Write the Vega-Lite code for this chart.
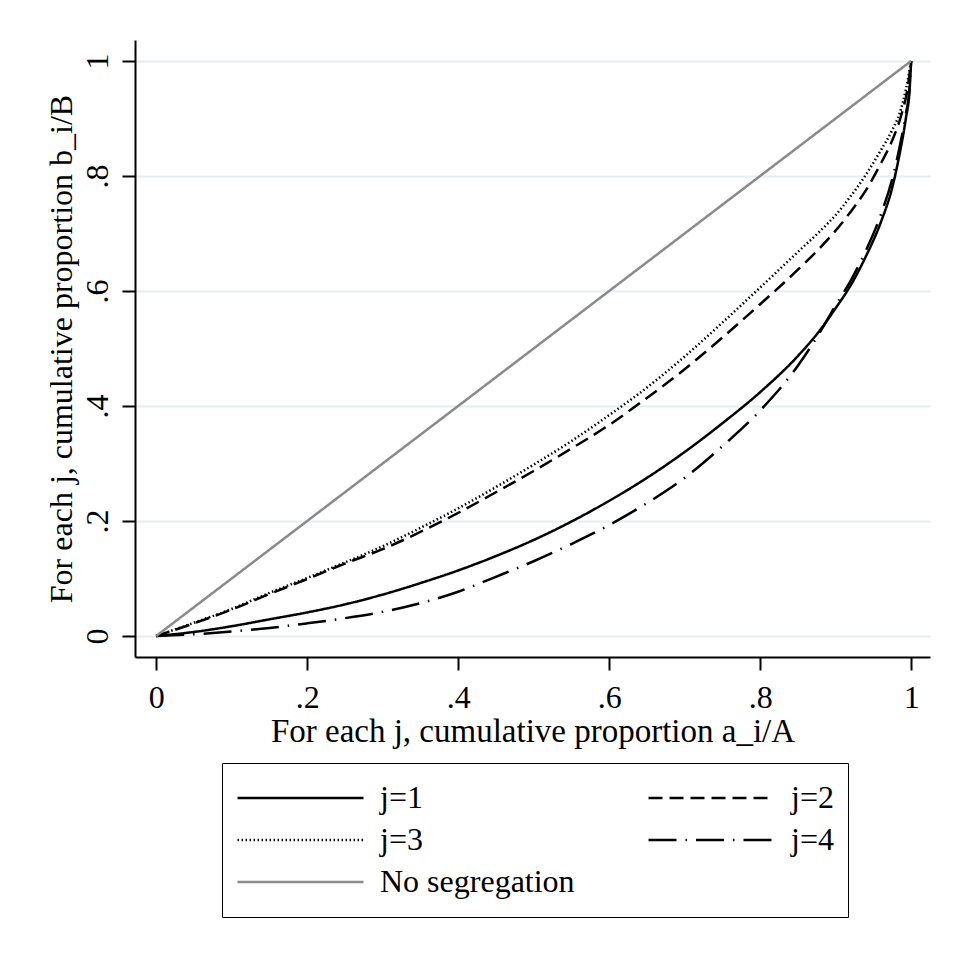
{
  "$schema": "https://vega.github.io/schema/vega-lite/v6.json",
  "autosize": {"type": "none"},
  "width": 795,
  "height": 617,
  "padding": {"left": 135, "top": 40, "right": 29, "bottom": 297},
  "background": "white",
  "config": {
    "view": {"stroke": null},
    "font": "Liberation Serif",
    "axis": {"labelFont": "Liberation Serif", "titleFont": "Liberation Serif", "labelColor": "black", "titleColor": "black", "titleFontWeight": "normal"}
  },
  "data": {
    "values": [
      {"series": "j=1", "x": 0, "y": 0},
      {"series": "j=1", "x": 0.05, "y": 0.007},
      {"series": "j=1", "x": 0.1, "y": 0.017},
      {"series": "j=1", "x": 0.15, "y": 0.029},
      {"series": "j=1", "x": 0.2, "y": 0.041},
      {"series": "j=1", "x": 0.25, "y": 0.055},
      {"series": "j=1", "x": 0.3, "y": 0.072},
      {"series": "j=1", "x": 0.35, "y": 0.092},
      {"series": "j=1", "x": 0.4, "y": 0.114},
      {"series": "j=1", "x": 0.45, "y": 0.139},
      {"series": "j=1", "x": 0.5, "y": 0.167},
      {"series": "j=1", "x": 0.55, "y": 0.199},
      {"series": "j=1", "x": 0.6, "y": 0.235},
      {"series": "j=1", "x": 0.65, "y": 0.275},
      {"series": "j=1", "x": 0.7, "y": 0.320},
      {"series": "j=1", "x": 0.75, "y": 0.370},
      {"series": "j=1", "x": 0.8, "y": 0.424},
      {"series": "j=1", "x": 0.85, "y": 0.487},
      {"series": "j=1", "x": 0.88, "y": 0.533},
      {"series": "j=1", "x": 0.9, "y": 0.570},
      {"series": "j=1", "x": 0.92, "y": 0.610},
      {"series": "j=1", "x": 0.94, "y": 0.660},
      {"series": "j=1", "x": 0.96, "y": 0.720},
      {"series": "j=1", "x": 0.975, "y": 0.780},
      {"series": "j=1", "x": 0.985, "y": 0.840},
      {"series": "j=1", "x": 0.993, "y": 0.900},
      {"series": "j=1", "x": 0.998, "y": 0.950},
      {"series": "j=1", "x": 1, "y": 1},
      {"series": "j=2", "x": 0, "y": 0},
      {"series": "j=2", "x": 0.05, "y": 0.022},
      {"series": "j=2", "x": 0.1, "y": 0.046},
      {"series": "j=2", "x": 0.15, "y": 0.073},
      {"series": "j=2", "x": 0.2, "y": 0.099},
      {"series": "j=2", "x": 0.25, "y": 0.126},
      {"series": "j=2", "x": 0.3, "y": 0.151},
      {"series": "j=2", "x": 0.35, "y": 0.181},
      {"series": "j=2", "x": 0.4, "y": 0.214},
      {"series": "j=2", "x": 0.45, "y": 0.250},
      {"series": "j=2", "x": 0.5, "y": 0.287},
      {"series": "j=2", "x": 0.55, "y": 0.326},
      {"series": "j=2", "x": 0.6, "y": 0.367},
      {"series": "j=2", "x": 0.65, "y": 0.414},
      {"series": "j=2", "x": 0.7, "y": 0.464},
      {"series": "j=2", "x": 0.75, "y": 0.519},
      {"series": "j=2", "x": 0.8, "y": 0.577},
      {"series": "j=2", "x": 0.85, "y": 0.637},
      {"series": "j=2", "x": 0.88, "y": 0.676},
      {"series": "j=2", "x": 0.9, "y": 0.705},
      {"series": "j=2", "x": 0.92, "y": 0.738},
      {"series": "j=2", "x": 0.94, "y": 0.775},
      {"series": "j=2", "x": 0.96, "y": 0.822},
      {"series": "j=2", "x": 0.975, "y": 0.862},
      {"series": "j=2", "x": 0.987, "y": 0.906},
      {"series": "j=2", "x": 0.995, "y": 0.950},
      {"series": "j=2", "x": 1, "y": 1},
      {"series": "j=3", "x": 0, "y": 0},
      {"series": "j=3", "x": 0.05, "y": 0.023},
      {"series": "j=3", "x": 0.1, "y": 0.047},
      {"series": "j=3", "x": 0.15, "y": 0.075},
      {"series": "j=3", "x": 0.2, "y": 0.101},
      {"series": "j=3", "x": 0.25, "y": 0.128},
      {"series": "j=3", "x": 0.3, "y": 0.156},
      {"series": "j=3", "x": 0.35, "y": 0.188},
      {"series": "j=3", "x": 0.4, "y": 0.222},
      {"series": "j=3", "x": 0.45, "y": 0.259},
      {"series": "j=3", "x": 0.5, "y": 0.298},
      {"series": "j=3", "x": 0.55, "y": 0.339},
      {"series": "j=3", "x": 0.6, "y": 0.384},
      {"series": "j=3", "x": 0.65, "y": 0.432},
      {"series": "j=3", "x": 0.7, "y": 0.486},
      {"series": "j=3", "x": 0.75, "y": 0.545},
      {"series": "j=3", "x": 0.8, "y": 0.606},
      {"series": "j=3", "x": 0.85, "y": 0.668},
      {"series": "j=3", "x": 0.88, "y": 0.705},
      {"series": "j=3", "x": 0.9, "y": 0.732},
      {"series": "j=3", "x": 0.92, "y": 0.765},
      {"series": "j=3", "x": 0.94, "y": 0.802},
      {"series": "j=3", "x": 0.96, "y": 0.845},
      {"series": "j=3", "x": 0.975, "y": 0.880},
      {"series": "j=3", "x": 0.985, "y": 0.910},
      {"series": "j=3", "x": 0.993, "y": 0.950},
      {"series": "j=3", "x": 1, "y": 1},
      {"series": "j=4", "x": 0, "y": 0},
      {"series": "j=4", "x": 0.05, "y": 0.003},
      {"series": "j=4", "x": 0.1, "y": 0.008},
      {"series": "j=4", "x": 0.15, "y": 0.014},
      {"series": "j=4", "x": 0.2, "y": 0.022},
      {"series": "j=4", "x": 0.25, "y": 0.031},
      {"series": "j=4", "x": 0.3, "y": 0.042},
      {"series": "j=4", "x": 0.35, "y": 0.057},
      {"series": "j=4", "x": 0.4, "y": 0.077},
      {"series": "j=4", "x": 0.45, "y": 0.103},
      {"series": "j=4", "x": 0.5, "y": 0.130},
      {"series": "j=4", "x": 0.55, "y": 0.160},
      {"series": "j=4", "x": 0.6, "y": 0.193},
      {"series": "j=4", "x": 0.65, "y": 0.231},
      {"series": "j=4", "x": 0.7, "y": 0.275},
      {"series": "j=4", "x": 0.75, "y": 0.330},
      {"series": "j=4", "x": 0.8, "y": 0.392},
      {"series": "j=4", "x": 0.85, "y": 0.470},
      {"series": "j=4", "x": 0.88, "y": 0.530},
      {"series": "j=4", "x": 0.9, "y": 0.575},
      {"series": "j=4", "x": 0.92, "y": 0.618},
      {"series": "j=4", "x": 0.94, "y": 0.670},
      {"series": "j=4", "x": 0.96, "y": 0.733},
      {"series": "j=4", "x": 0.975, "y": 0.795},
      {"series": "j=4", "x": 0.985, "y": 0.852},
      {"series": "j=4", "x": 0.993, "y": 0.908},
      {"series": "j=4", "x": 0.998, "y": 0.955},
      {"series": "j=4", "x": 1, "y": 1},
      {"series": "No segregation", "x": 0, "y": 0},
      {"series": "No segregation", "x": 1, "y": 1}
    ]
  },
  "mark": {"type": "line", "strokeWidth": 2.5, "strokeCap": "butt", "interpolate": "monotone"},
  "encoding": {
    "x": {
      "field": "x", "type": "quantitative",
      "scale": {"domain": [-0.028, 1.025], "nice": false, "zero": false},
      "axis": {
        "values": [0, 0.2, 0.4, 0.6, 0.8, 1],
        "labelExpr": "datum.value == 0 ? '0' : datum.value == 1 ? '1' : replace(format(datum.value, '.1f'), '0.', '.')",
        "grid": false, "domainColor": "black", "domainWidth": 2, "tickColor": "black", "tickWidth": 2, "tickSize": 13,
        "labelFontSize": 32, "labelBaseline": "alphabetic", "labelPadding": 37, "labelFlush": false, "labelOverlap": false,
        "title": "For each j, cumulative proportion a_i/A", "titleFontSize": 33, "titleBaseline": "alphabetic", "titleY": 84
      }
    },
    "y": {
      "field": "y", "type": "quantitative",
      "scale": {"domain": [-0.0365, 1.0365], "nice": false, "zero": false},
      "axis": {
        "values": [0, 0.2, 0.4, 0.6, 0.8, 1],
        "labelExpr": "datum.value == 0 ? '0' : datum.value == 1 ? '1' : replace(format(datum.value, '.1f'), '0.', '.')",
        "grid": true, "gridColor": "#e6eef1", "gridWidth": 2,
        "domainColor": "black", "domainWidth": 2, "tickColor": "black", "tickWidth": 2, "tickSize": 13,
        "labelFontSize": 32, "labelAngle": -90, "labelAlign": "center", "labelBaseline": "alphabetic", "labelPadding": 15, "labelFlush": false, "labelOverlap": false,
        "title": "For each j, cumulative proportion b_i/B", "titleFontSize": 32, "titleBaseline": "alphabetic", "titleAngle": -90, "titleX": -64
      }
    },
    "color": {
      "field": "series", "type": "nominal",
      "scale": {"domain": ["j=1", "j=3", "No segregation", "j=2", "j=4"], "range": ["#000000", "#000000", "#8a8a8a", "#000000", "#000000"]},
      "legend": {
        "title": null, "orient": "none", "legendX": 87, "legendY": 723, "columns": 2,
        "symbolType": "stroke", "symbolSize": 15876, "symbolStrokeWidth": 2.5, "clipHeight": 42,
        "rowPadding": 0, "columnPadding": 72, "padding": 14, "labelOffset": 15, "labelLimit": 400,
        "labelFont": "Liberation Serif", "labelFontSize": 32, "labelColor": "black",
        "strokeColor": "black", "fillColor": "white", "cornerRadius": 0
      }
    },
    "strokeDash": {
      "field": "series", "type": "nominal",
      "scale": {"domain": ["j=1", "j=3", "No segregation", "j=2", "j=4"], "range": [[1, 0], [1.5, 2.5], [1, 0], [14, 7], [28, 9, 1.5, 9]]}
    },
    "order": {"field": "x", "type": "quantitative"}
  }
}
